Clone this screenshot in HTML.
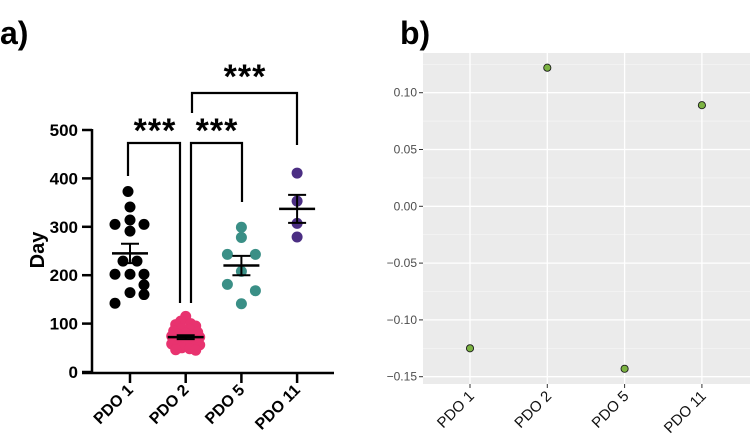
<!DOCTYPE html>
<html><head><meta charset="utf-8"><style>
body{margin:0;background:#fff;}
svg{display:block;font-family:"Liberation Sans",Arial,sans-serif;}
</style></head><body>
<svg id="chart" width="750" height="445" viewBox="0 0 750 445">
<text x="0" y="44" font-size="32" font-weight="bold">a)</text>
<g id="pa"></g>
<g id="pb"></g>
<text x="400" y="44" font-size="32" font-weight="bold">b)</text>
</svg>
<script>
// ---- Panel a data ----
const groupsA = ["PDO 1","PDO 2","PDO 5","PDO 11"];
const colorsA = ["#000000","#e8336f","#3a8f86","#4b2e83"];
const pdo1Vals = [373,341,314,305,305,291,229,229,202,202,202,180,164,160,142];
const pdo1Offs = [-2,0,0,-15,14,0,-7,7,-15,14,0,14,0,14,-15];
const pdo2Vals = [115,105,100,98,95,90,88,85,82,80,78,76,74,72,70,68,66,64,62,60,58,56,54,52,50,48,46,45];
const pdo2Offs = [0,-5,5,-10,10,-4,4,-12,12,0,-8,8,-14,14,-6,6,-12,12,-3,3,-14,14,-8,8,-4,4,-10,10];
const pdo5Vals = [299,278,243,243,208,181,168,141];
const pdo5Offs = [0,0,-14,14,0,-14,14,0];
const pdo11Vals = [411,353,307,279];
const pdo11Offs = [0,0,0,0];
const meansA = [245,72,220,337];
const semA = [20,4,20,29];
const ticksA = [0,100,200,300,400,500];

// ---- Panel b data ----
const groupsB = ["PDO 1","PDO 2","PDO 5","PDO 11"];
const valuesB = [-0.125,0.122,-0.143,0.089];
const ticksB = [-0.15,-0.10,-0.05,0.00,0.05,0.10];
const tickLabelsB = ["\u22120.15","\u22120.10","\u22120.05","0.00","0.05","0.10"];

const NS="http://www.w3.org/2000/svg";
function mk(parent,tag,attrs){const e=document.createElementNS(NS,tag);for(const k in attrs)e.setAttribute(k,attrs[k]);parent.appendChild(e);return e;}

const yA = v => 372 - v*(242/500);
const xA = i => 130 + i*55.7;
const pa=document.getElementById('pa');
let e;
e=mk(pa,'line',{x1:92,y1:373,x2:92,y2:yA(500)-1,stroke:'#000','stroke-width':2.5});


e=mk(pa,'line',{x1:82,y1:373,x2:334,y2:373,stroke:'#000','stroke-width':2.5});


ticksA.forEach(t=>{
  mk(pa,'line',{x1:82,y1:yA(t),x2:92,y2:yA(t),stroke:'#000','stroke-width':2.5});
  e=mk(pa,'text',{x:78,y:yA(t)+6,'text-anchor':'end','font-size':17,'font-weight':'bold'});
  e.textContent=t;
  
  
});
e=mk(pa,'text',{x:0,y:0,transform:'translate(44,250) rotate(-90)','text-anchor':'middle','font-size':20,'font-weight':'bold'});
e.textContent='Day';


groupsA.forEach((g,i)=>{
  mk(pa,'line',{x1:xA(i),y1:373,x2:xA(i),y2:383,stroke:'#000','stroke-width':2.5});
  e=mk(pa,'text',{x:0,y:0,transform:`translate(${xA(i)+4},${391}) rotate(-45)`,'text-anchor':'end','font-size':16,'font-weight':'bold'});
  e.textContent=g;
  
  
});
const allVals=[pdo1Vals,pdo2Vals,pdo5Vals,pdo11Vals];
const allOffs=[pdo1Offs,pdo2Offs,pdo5Offs,pdo11Offs];
allVals.forEach((vals,i)=>{
  vals.forEach((v,j)=>{
    e=mk(pa,'circle',{cx:xA(i)+allOffs[i][j],cy:yA(v),r:5.5,fill:colorsA[i]});
    
    
  });
  const m=meansA[i],s=semA[i];
  e=mk(pa,'line',{x1:xA(i)-18,y1:yA(m),x2:xA(i)+18,y2:yA(m),stroke:'#000','stroke-width':2.5});
  
  
  mk(pa,'line',{x1:xA(i),y1:yA(m+s),x2:xA(i),y2:yA(m-s),stroke:'#000','stroke-width':2});
  mk(pa,'line',{x1:xA(i)-9,y1:yA(m+s),x2:xA(i)+9,y2:yA(m+s),stroke:'#000','stroke-width':2});
  mk(pa,'line',{x1:xA(i)-9,y1:yA(m-s),x2:xA(i)+9,y2:yA(m-s),stroke:'#000','stroke-width':2});
});
e=mk(pa,'polyline',{points:'128,176 128,143 180,143 180,303',fill:'none',stroke:'#000','stroke-width':2.2});


e=mk(pa,'polyline',{points:'191,303 191,143 242,143 242,202',fill:'none',stroke:'#000','stroke-width':2.2});


e=mk(pa,'polyline',{points:'192,113 192,93 297,93 297,145',fill:'none',stroke:'#000','stroke-width':2.2});


[[155,142],[217,142],[245,88]].forEach(p=>{
  e=mk(pa,'text',{x:p[0],y:p[1],'text-anchor':'middle','font-size':34,'font-weight':'bold','letter-spacing':'1'});
  e.textContent='***';
  
  
});

// Panel b
const pb=document.getElementById('pb');
const yB = v => 92.7 + (0.10 - v)*(56.8/0.05);
const xB = i => 470 + i*77.3;
e=mk(pb,'rect',{x:423,y:53,width:327,height:331,fill:'#ebebeb'});


for(let k=0;k<ticksB.length-1;k++){
  const mv=(ticksB[k]+ticksB[k+1])/2;
  mk(pb,'line',{x1:423,y1:yB(mv),x2:750,y2:yB(mv),stroke:'#f5f5f5','stroke-width':0.7});
}
mk(pb,'line',{x1:423,y1:yB(0.125),x2:750,y2:yB(0.125),stroke:'#f5f5f5','stroke-width':0.7});
ticksB.forEach((t,k)=>{
  mk(pb,'line',{x1:423,y1:yB(t),x2:750,y2:yB(t),stroke:'#fff','stroke-width':1.3});
  mk(pb,'line',{x1:419,y1:yB(t),x2:423,y2:yB(t),stroke:'#333','stroke-width':1});
  e=mk(pb,'text',{x:417,y:yB(t)+4,'text-anchor':'end','font-size':12,fill:'#4d4d4d'});
  e.textContent=tickLabelsB[k];
  
  
});
groupsB.forEach((g,i)=>{
  mk(pb,'line',{x1:xB(i),y1:53,x2:xB(i),y2:384,stroke:'#fff','stroke-width':1.3});
  mk(pb,'line',{x1:xB(i),y1:384,x2:xB(i),y2:388,stroke:'#333','stroke-width':1});
  e=mk(pb,'text',{x:0,y:0,transform:`translate(${xB(i)+5},${397}) rotate(-45)`,'text-anchor':'end','font-size':15,fill:'#111'});
  e.textContent=g;
  
  
});
valuesB.forEach((v,i)=>{
  e=mk(pb,'circle',{cx:xB(i),cy:yB(v),r:3.6,fill:'#7cb342',stroke:'#1a1a1a','stroke-width':0.9});
  
  
});
</script>
</body></html>
